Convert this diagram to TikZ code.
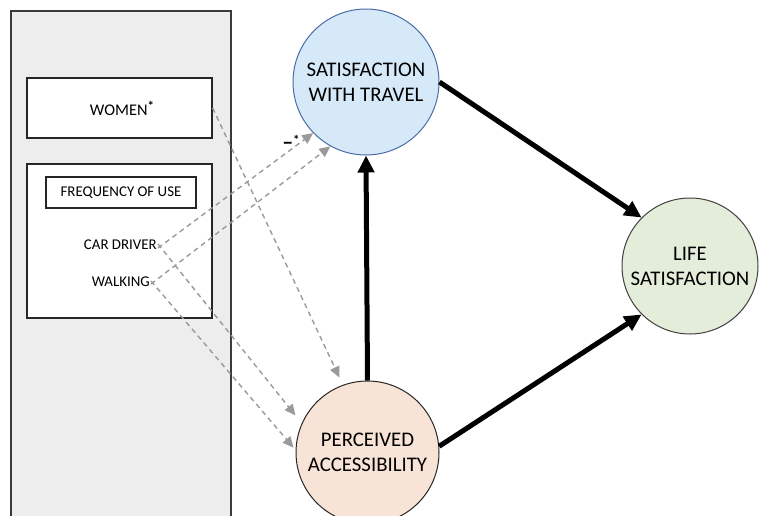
\documentclass[tikz,border=0pt]{standalone}
\usepackage{fontspec}
\setmainfont{Carlito}
\usetikzlibrary{arrows.meta}
\definecolor{panelgray}{HTML}{EDEDED}
\definecolor{panelline}{HTML}{3A3A3A}
\definecolor{satfill}{HTML}{D6E9F8}
\definecolor{satline}{HTML}{4A6DA7}
\definecolor{percfill}{HTML}{F8E4D6}
\definecolor{lifefill}{HTML}{E4EDDA}
\definecolor{dashgray}{HTML}{9A9A9A}
\tikzset{
  whitebox/.style={draw=black!85, line width=1.3pt, fill=white, inner sep=0pt},
  bigcircle/.style={circle, inner sep=0pt, line width=1pt, align=center,
     font=\fontsize{20.8}{25}\selectfont},
  smalltext/.style={inner sep=1pt, font=\fontsize{14.9}{17}\selectfont},
  strongarrow/.style={line width=5pt, -{Triangle[length=17pt,width=16pt]}},
  weakarrow/.style={draw=dashgray, line width=1.4pt, dash pattern=on 5pt off 4pt,
     -{Triangle[length=11pt,width=10pt]}},
}
\begin{document}
\begin{tikzpicture}[x=1pt,y=-1pt]
\useasboundingbox (0,0) rectangle (760,515);
\clip (0,0) rectangle (760,515);
% left panel
\draw[fill=panelgray, draw=panelline, line width=1.2pt] (11,11) rectangle (231,530);
% women box
\node[whitebox, minimum width=185pt, minimum height=60pt] (women) at (119.5,108) {};
\node[font=\fontsize{16.3}{19}\selectfont] (womentext) at (122,108)
  {WOMEN\raisebox{5pt}{\fontsize{13}{14}\selectfont\bfseries*}};
% frequency box
\node[whitebox, minimum width=185pt, minimum height=154pt] (freq) at (119.5,241) {};
\node[whitebox, line width=1.2pt, minimum width=150pt, minimum height=31pt,
      font=\fontsize{14.9}{17}\selectfont] (fou) at (121,192.5) {FREQUENCY OF USE};
\node[smalltext, anchor=east] (cd) at (158,245) {CAR DRIVER};
\node[smalltext, anchor=east] (wk) at (151,282) {WALKING};
% circles
\node[bigcircle, draw=satline, fill=satfill, minimum size=146pt] (sat) at (366,82)
  {SATISFACTION\\WITH TRAVEL};
\node[bigcircle, draw=black!85, fill=percfill, minimum size=143pt] (perc) at (367.5,452.5)
  {PERCEIVED\\ACCESSIBILITY};
\node[bigcircle, draw=black!75, fill=lifefill, minimum size=136pt] (life) at (690,266)
  {LIFE\\SATISFACTION};
% strong arrows
\draw[strongarrow] (sat.east) -- (life.135);
\draw[strongarrow] (perc.5) -- (life.225);
\draw[strongarrow] (perc.north) -- (sat.south);
% weak dashed arrows
\draw[weakarrow, shorten >=8pt] (women.east |- womentext.east) -- (perc.110);
\draw[weakarrow] ([yshift=-3pt]cd.east) -- (sat.224);
\draw[weakarrow] ([yshift=-2pt]wk.east) -- (sat.241);
\draw[weakarrow, shorten >=10pt] ([yshift=1pt]cd.east) -- (perc.156);
\draw[weakarrow, shorten >=3pt] ([yshift=1pt]wk.east) -- (perc.178);
% label
\node[font=\fontsize{22}{24}\selectfont\bfseries, inner sep=0pt] (minus) at (291,142)
  {–\raisebox{5pt}{\fontsize{13}{14}\selectfont*}};
\end{tikzpicture}
\end{document}
